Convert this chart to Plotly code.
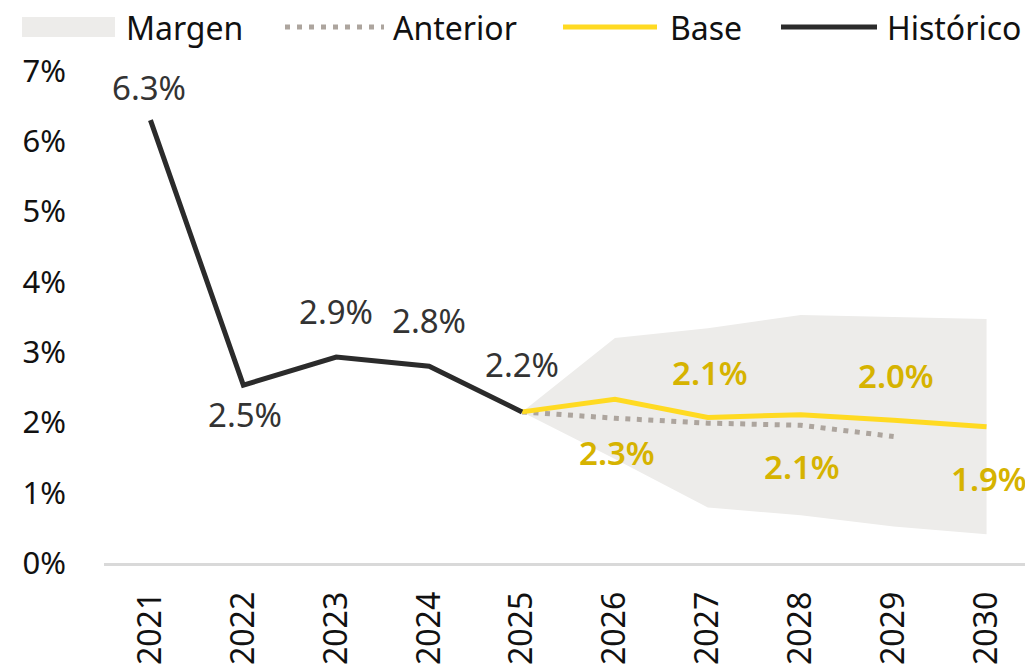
import plotly.graph_objects as go

years = ["2021", "2022", "2023", "2024", "2025", "2026", "2027", "2028", "2029", "2030"]

hist_years = ["2021", "2022", "2023", "2024", "2025"]
hist_values = [6.30, 2.53, 2.93, 2.80, 2.15]
hist_labels = ["6.3%", "2.5%", "2.9%", "2.8%", "2.2%"]

base_years = ["2025", "2026", "2027", "2028", "2029", "2030"]
base_values = [2.15, 2.33, 2.07, 2.11, 2.03, 1.94]
base_labels = ["", "2.3%", "2.1%", "2.1%", "2.0%", "1.9%"]

prev_years = ["2025", "2026", "2027", "2028", "2029"]
prev_values = [2.15, 2.06, 1.99, 1.96, 1.80]

band_years = ["2025", "2026", "2027", "2028", "2029", "2030"]
band_upper = [2.15, 3.20, 3.34, 3.53, 3.50, 3.47]
band_lower = [2.15, 1.48, 0.79, 0.68, 0.52, 0.41]

y_ticks = [0, 1, 2, 3, 4, 5, 6, 7]
y_ticklabels = ["0%", "1%", "2%", "3%", "4%", "5%", "6%", "7%"]

legend_names = ["Margen", "Anterior", "Base", "Histórico"]

# ---- style ----
# label offsets in pixels (screen-down positive), label x nudges
hist_offsets = [-33, 29, -46, -46, -47]
hist_xshift = [-1, 2, 0, 0, 0]
base_offsets = [0, 53, -45, 52, -45, 52]
base_xshift = [0, 2, 2, 1, 2, 2]

BAND = "#EDECEA"
YELLOW = "#FFDA22"
YELLOW_TXT = "#D6B300"
DARK = "#2B2B2B"
GREY_DOT = "#ADA59E"
FONT = "Noto Sans"

# figure geometry (page has an 8px body margin)
W, H = 1025, 662
ML, MT, MB, MR = 96, 63, 107, 0
PW = W - ML - MR
PH = H - MT - MB


def px_x(page_x):
    return (page_x - 8 - ML) / PW


def px_y(page_y):
    return (H - MB - (page_y - 8)) / PH


fig = go.Figure()

fig.add_trace(go.Scatter(
    x=band_years + band_years[::-1],
    y=band_upper + band_lower[::-1],
    fill="toself", fillcolor=BAND, mode="lines",
    line=dict(width=0, color=BAND), name=legend_names[0], hoverinfo="skip",
))
fig.add_trace(go.Scatter(
    x=prev_years, y=prev_values, mode="lines", name=legend_names[1],
    line=dict(color=GREY_DOT, width=5, dash="5px,6.5px"),
))
fig.add_trace(go.Scatter(
    x=base_years, y=base_values, mode="lines", name=legend_names[2],
    line=dict(color=YELLOW, width=5),
))
fig.add_trace(go.Scatter(
    x=hist_years, y=hist_values, mode="lines", name=legend_names[3],
    line=dict(color=DARK, width=5),
))

annotations = []
for x, y, t, off, xs in zip(hist_years, hist_values, hist_labels, hist_offsets, hist_xshift):
    annotations.append(dict(x=years.index(x), y=y, xref="x", yref="y", text=t,
                            showarrow=False, yshift=-off, xshift=xs,
                            font=dict(family=FONT, size=33, color="#333333")))
for x, y, t, off, xs in zip(base_years, base_values, base_labels, base_offsets, base_xshift):
    if not t:
        continue
    annotations.append(dict(x=years.index(x), y=y, xref="x", yref="y", text=t,
                            showarrow=False, yshift=-off, xshift=xs,
                            font=dict(family=FONT, size=33, color=YELLOW_TXT, weight=600)))

# ---- legend drawn as swatches + text ----
LEG_Y = 27
shapes = [
    dict(type="rect", xref="paper", yref="paper",
         x0=px_x(22), x1=px_x(115), y0=px_y(37), y1=px_y(17),
         fillcolor=BAND, line=dict(width=0), layer="above"),
    dict(type="line", xref="paper", yref="paper",
         x0=px_x(285), x1=px_x(384), y0=px_y(LEG_Y), y1=px_y(LEG_Y),
         line=dict(color=GREY_DOT, width=5, dash="5px,7px")),
    dict(type="line", xref="paper", yref="paper",
         x0=px_x(563), x1=px_x(657), y0=px_y(LEG_Y), y1=px_y(LEG_Y),
         line=dict(color=YELLOW, width=5)),
    dict(type="line", xref="paper", yref="paper",
         x0=px_x(781), x1=px_x(877), y0=px_y(LEG_Y), y1=px_y(LEG_Y),
         line=dict(color=DARK, width=5)),
]
for name, lx in zip(legend_names, [124, 391, 668, 885]):
    annotations.append(dict(x=px_x(lx), y=px_y(LEG_Y), xref="paper", yref="paper",
                            text=name, showarrow=False, xanchor="left", yanchor="middle",
                            font=dict(family=FONT, size=32, color="#111111")))

fig.update_layout(
    width=W, height=H,
    margin=dict(l=ML, r=MR, t=MT, b=MB, autoexpand=False),
    paper_bgcolor="white", plot_bgcolor="white",
    font=dict(family=FONT, color="#111111"),
    showlegend=False,
    annotations=annotations,
    shapes=shapes,
    xaxis=dict(type="category", categoryorder="array", categoryarray=years,
               range=[-0.5, 9.5], tickangle=-90, showgrid=False, zeroline=False,
               showline=True, linecolor="#D9D9D9", linewidth=3, ticks="",
               tickfont=dict(family=FONT, size=32, color="#111111"),
               ticklabelstandoff=13, automargin=False),
    yaxis=dict(range=[0, 7], tickvals=y_ticks, ticktext=y_ticklabels,
               showgrid=False, zeroline=False, showline=False, ticks="",
               tickfont=dict(family=FONT, size=31, color="#111111"),
               ticklabelstandoff=37, automargin=False),
)

fig.write_html("out.html")
